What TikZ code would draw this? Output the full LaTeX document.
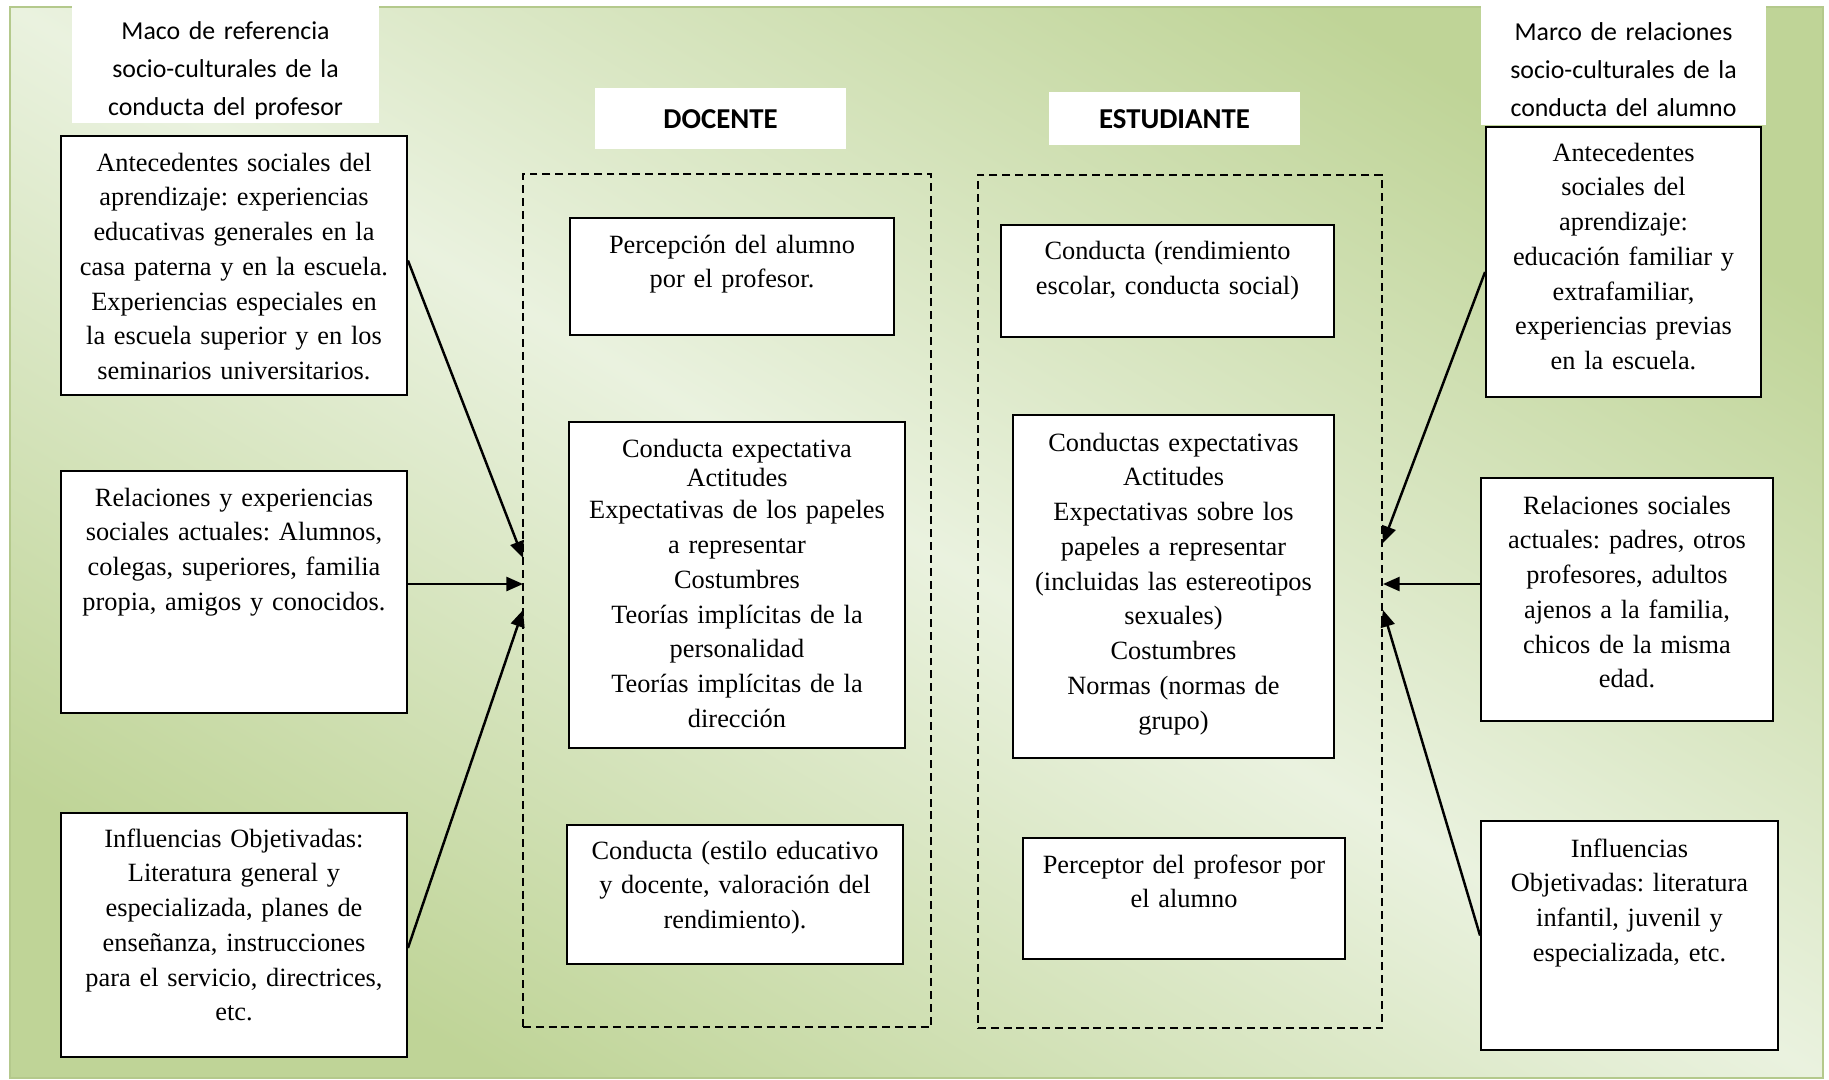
\documentclass[tikz,border=0pt]{standalone}
\usepackage{fontspec}
\setmainfont{Liberation Serif}
\newfontfamily\tnr{Liberation Serif}
\newfontfamily\calibri{Carlito}
\usetikzlibrary{arrows.meta,calc,fit,shadows}
\frenchspacing

\definecolor{bglight}{HTML}{EAF2DF}
\definecolor{bgdark}{HTML}{BFD497}
\definecolor{bgedge}{HTML}{B4C98C}

\begin{document}
\begin{tikzpicture}[x=0.02cm, y=-0.02cm,
  box/.style={draw, fill=white, line width=1.1pt, inner sep=0pt,
    drop shadow={shadow xshift=0.6pt, shadow yshift=-0.6pt, fill=black!45, opacity=1}},
  txt/.style={anchor=base, align=center, text width=8cm, inner sep=0pt,
    font=\tnr\fontsize{15}{19.8}\selectfont},
  head/.style={fill=white, inner sep=0pt},
  headtxt/.style={anchor=base, align=center, text width=8cm, inner sep=0pt,
    font=\calibri\fontsize{14.7}{21.5}\selectfont},
  title/.style={fill=white, inner sep=0pt, anchor=base, text depth=0pt,
    font=\calibri\bfseries\fontsize{16.4}{20}\selectfont},
  zone/.style={draw, dash pattern=on 4.5pt off 2.8pt, line width=0.8pt, inner sep=0pt},
  arr/.style={-{Triangle[length=9.5pt,width=8pt]}, line width=1.4pt}]
  \useasboundingbox (0,0) rectangle (1829,1079);
  % background
  \shade[top color=bgdark, bottom color=bgdark, middle color=bglight, shading angle=-30.6]
    (10,7) rectangle (1823,1078);
  \draw[bgedge, line width=1.2pt] (10,7) rectangle (1823,1078);

  % headers
  \node[head, fit={(72,0) (379,123)}] (H1) {};
  \node[head, fit={(1481,0) (1766,125)}] (H2) {};
  \begin{scope}
    \clip (72,0) rectangle (379,123);
    \node[headtxt] (H1t) at ($(H1.north)+(0,40)$) {Maco de referencia\\socio-culturales de la\\conducta del profesor};
  \end{scope}
  \node[headtxt] (H2t) at ($(H2.north)+(0,41)$) {Marco de relaciones\\socio-culturales de la\\conducta del alumno};
  \node[title, minimum width=5.02cm, minimum height=1.22cm] (DOC) at (720.5,128) {DOCENTE};
  \node[title, minimum width=5.02cm, minimum height=1.06cm] (EST) at (1174.5,128) {ESTUDIANTE};

  % dashed zones
  \node[zone, fit={(523,174) (931,1027)}] (Z1) {};
  \node[zone, fit={(978,175) (1382,1028)}] (Z2) {};

  % left column
  \node[box, fit={(61,136) (407,395)}] (L1) {};
  \node[txt] (L1t) at ($(L1.north)+(0,36)$) {Antecedentes sociales del\\aprendizaje: experiencias\\educativas generales en la\\casa paterna y en la escuela.\\Experiencias especiales en\\la escuela superior y en los\\seminarios universitarios.};
  \node[box, fit={(61,471) (407,713)}] (L2) {};
  \node[txt] (L2t) at ($(L2.north)+(0,36)$) {Relaciones y experiencias\\sociales actuales: Alumnos,\\colegas, superiores, familia\\propia, amigos y conocidos.};
  \node[box, fit={(61,813) (407,1057)}] (L3) {};
  \node[txt] (L3t) at ($(L3.north)+(0,35)$) {Influencias Objetivadas:\\Literatura general y\\especializada, planes de\\enseñanza, instrucciones\\para el servicio, directrices,\\etc.};

  % docente
  \node[box, fit={(570,218) (894,335)}] (D1) {};
  \node[txt] (D1t) at ($(D1.north)+(0,36)$) {Percepción del alumno\\por el profesor.};
  \node[box, fit={(569,422) (905,748)}] (D2) {};
  \node[txt] (D2t) at ($(D2.north)+(0,36)$) {Conducta expectativa\\[-2.8pt]Actitudes\\[-1.7pt]Expectativas de los papeles\\a representar\\Costumbres\\Teorías implícitas de la\\personalidad\\Teorías implícitas de la\\dirección};
  \node[box, fit={(567,825) (903,964)}] (D3) {};
  \node[txt] (D3t) at ($(D3.north)+(0,35)$) {Conducta (estilo educativo\\y docente, valoración del\\rendimiento).};

  % estudiante
  \node[box, fit={(1001,225) (1334,337)}] (E1) {};
  \node[txt] (E1t) at ($(E1.north)+(0,35.5)$) {Conducta (rendimiento\\escolar, conducta social)};
  \node[box, fit={(1013,415) (1334,758)}] (E2) {};
  \node[txt] (E2t) at ($(E2.north)+(0,37)$) {Conductas expectativas\\Actitudes\\Expectativas sobre los\\papeles a representar\\(incluidas las estereotipos\\sexuales)\\Costumbres\\Normas (normas de\\grupo)};
  \node[box, fit={(1023,838) (1345,959)}] (E3) {};
  \node[txt] (E3t) at ($(E3.north)+(0,36)$) {Perceptor del profesor por\\el alumno};

  % right column
  \node[box, fit={(1486,127) (1761,397)}] (R1) {};
  \node[txt] (R1t) at ($(R1.north)+(0,35)$) {Antecedentes\\sociales del\\aprendizaje:\\educación familiar y\\extrafamiliar,\\experiencias previas\\en la escuela.};
  \node[box, fit={(1481,478) (1773,721)}] (R2) {};
  \node[txt] (R2t) at ($(R2.north)+(0,37)$) {Relaciones sociales\\actuales: padres, otros\\profesores, adultos\\ajenos a la familia,\\chicos de la misma\\edad.};
  \node[box, fit={(1481,821) (1778,1050)}] (R3) {};
  \node[txt] (R3t) at ($(R3.north)+(0,37)$) {Influencias\\Objetivadas: literatura\\infantil, juvenil y\\especializada, etc.};

  % arrows
  \coordinate (a1) at (523,558);
  \coordinate (a2) at (523,584);
  \coordinate (a3) at (523,610);
  \coordinate (b1) at (1383,543);
  \coordinate (b2) at (1383,584);
  \coordinate (b3) at (1383,610);
  \draw[arr] ($(L1.east)+(0,-5)$) -- (a1);
  \draw[arr] (L2.east |- a2) -- (a2);
  \draw[arr] ($(L3.east)+(0,13)$) -- (a3);
  \draw[arr] ($(R1.west)+(0,10)$) -- (b1);
  \draw[arr] (R2.west |- b2) -- (b2);
  \draw[arr] (R3.west) -- (b3);
\end{tikzpicture}
\end{document}
